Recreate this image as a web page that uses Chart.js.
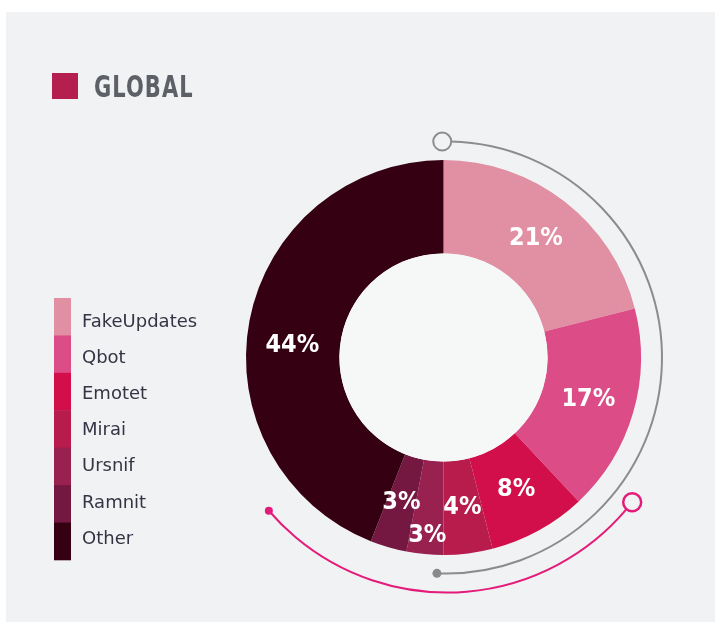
<!DOCTYPE html>
<html>
<head>
<meta charset="utf-8">
<script src="https://cdn.jsdelivr.net/npm/chart.js@4.4.1/dist/chart.umd.min.js"></script>
<style>
  html, body { margin: 0; padding: 0; background: #ffffff; }
  #panel { position: absolute; left: 6px; top: 12px; right: 0; bottom: 0; background: #f1f2f4; }
  #globalChart { position: absolute; left: 0; top: 0; }
</style>
</head>
<body>
<div id="panel"></div>
<canvas id="globalChart" width="715" height="622"></canvas>
<script>
// ## GLOBAL MALWARE SHARE ##

const chartTitle = "GLOBAL";
const malwareNames = ["FakeUpdates", "Qbot", "Emotet", "Mirai", "Ursnif", "Ramnit", "Other"];
const sharePercent = [21, 17, 8, 4, 3, 3, 44];
const sliceColors = ["#e18fa3", "#dc4d87", "#d20f4a", "#b71c4c", "#982150", "#741741", "#350011"];

// small nudges for labels that sit off the slice centroid
const labelNudge = { 4: [-2, 28], 6: [-3, 16] };

function deg(a) {
  return ((a - 90) * Math.PI) / 180;
}

const decorPlugin = {
  id: "decor",
  beforeDatasetsDraw(chart) {
    const arc = chart.getDatasetMeta(0).data[0];
    const ctx = chart.ctx;
    const cx = arc.x;
    const cy = arc.y;
    const outer = arc.outerRadius;
    ctx.save();

    // grey ring + arc on the right side
    const gx = cx + 2.5;
    const gr = outer + 18.5;
    const gStart = -1;
    ctx.strokeStyle = "#8c8c8c";
    ctx.lineWidth = 2;
    ctx.beginPath();
    ctx.arc(gx, cy, gr, deg(gStart) + 9 / gr, deg(182.4), false);
    ctx.stroke();
    ctx.beginPath();
    ctx.arc(gx + gr * Math.cos(deg(gStart)), cy + gr * Math.sin(deg(gStart)), 9, 0, Math.PI * 2);
    ctx.fillStyle = "#f1f2f4";
    ctx.fill();
    ctx.stroke();
    ctx.beginPath();
    ctx.arc(gx + gr * Math.cos(deg(182.4)), cy + gr * Math.sin(deg(182.4)), 4.5, 0, Math.PI * 2);
    ctx.fillStyle = "#8a8a8a";
    ctx.fill();

    // pink arc underneath
    const px = cx + 3.5;
    const pr = outer + 37.5;
    const pStart = 128;
    const pEnd = 229.3;
    ctx.strokeStyle = "#e31b79";
    ctx.lineWidth = 2;
    ctx.beginPath();
    ctx.arc(px, cy, pr, deg(pStart) + 9 / pr, deg(pEnd), false);
    ctx.stroke();
    ctx.beginPath();
    ctx.arc(px + pr * Math.cos(deg(pStart)), cy + pr * Math.sin(deg(pStart)), 9, 0, Math.PI * 2);
    ctx.fillStyle = "#f1f2f4";
    ctx.lineWidth = 2.5;
    ctx.fill();
    ctx.stroke();
    ctx.beginPath();
    ctx.arc(px + pr * Math.cos(deg(pEnd)), cy + pr * Math.sin(deg(pEnd)), 4, 0, Math.PI * 2);
    ctx.fillStyle = "#e31b79";
    ctx.fill();
    ctx.restore();
  },
  afterDatasetsDraw(chart) {
    const meta = chart.getDatasetMeta(0);
    const ctx = chart.ctx;
    const first = meta.data[0];
    ctx.save();

    // lighter hole in the middle
    ctx.beginPath();
    ctx.arc(first.x, first.y, first.innerRadius, 0, Math.PI * 2);
    ctx.fillStyle = "#f6f7f7";
    ctx.fill();

    // percentage labels
    ctx.fillStyle = "#ffffff";
    ctx.font = "bold 25px 'DejaVu Sans Condensed', 'DejaVu Sans'";
    ctx.textAlign = "center";
    ctx.textBaseline = "middle";
    meta.data.forEach((el, i) => {
      const pos = el.tooltipPosition();
      const nudge = labelNudge[i] || [0, 0];
      ctx.fillText(sharePercent[i] + "%", pos.x + nudge[0], pos.y + nudge[1]);
    });
    ctx.restore();
  },
  afterDraw(chart) {
    const ctx = chart.ctx;
    ctx.save();

    // title with square marker
    ctx.fillStyle = "#b51f4f";
    ctx.fillRect(52, 73, 26, 26);
    ctx.save();
    ctx.translate(94, 97);
    ctx.scale(0.7, 1);
    ctx.fillStyle = "#5e6068";
    ctx.font = "bold 30px 'DejaVu Sans'";
    ctx.textAlign = "left";
    ctx.textBaseline = "alphabetic";
    ctx.letterSpacing = "1.5px";
    ctx.fillText(chartTitle, 0, 0);
    ctx.restore();

    // stacked colour bar legend
    const top = 298;
    const rowH = 37.4;
    ctx.font = "18px 'DejaVu Sans'";
    ctx.textAlign = "left";
    ctx.textBaseline = "middle";
    malwareNames.forEach((name, i) => {
      ctx.fillStyle = sliceColors[i];
      ctx.fillRect(54, top + i * rowH, 17, rowH + 0.5);
      ctx.fillStyle = "#343444";
      ctx.fillText(name, 82, 322 + i * 36.2);
    });
    ctx.restore();
  },
};

const ctx = document.getElementById("globalChart").getContext("2d");

window.globalChart = new Chart(ctx, {
  type: "doughnut",
  data: {
    labels: malwareNames,
    datasets: [
      {
        label: "Share",
        data: sharePercent,
        backgroundColor: sliceColors,
        borderWidth: 0,
        hoverOffset: 0,
      },
    ],
  },
  options: {
    responsive: false,
    animation: false,
    devicePixelRatio: 1,
    cutout: "52.7%",
    layout: {
      padding: { left: 246, right: 74, top: 160, bottom: 67 },
    },
    plugins: {
      legend: { display: false },
      tooltip: { enabled: false },
    },
  },
  plugins: [decorPlugin],
});
</script>
</body>
</html>
